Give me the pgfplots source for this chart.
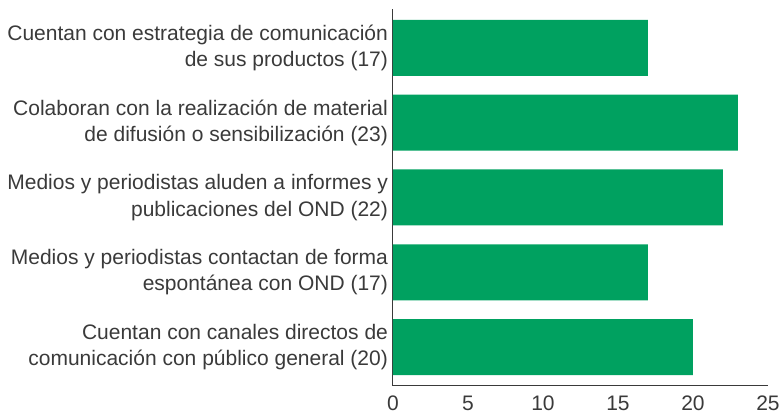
\documentclass[border=0pt]{standalone}
\usepackage{fontspec}
\setmainfont{Liberation Sans}
\usepackage{pgfplots}
\pgfplotsset{compat=1.18}
\definecolor{barG}{HTML}{00A160}
\definecolor{txt}{HTML}{3A3A3A}

\begin{document}
\begin{tikzpicture}
\path[use as bounding box] (-196.5pt,-15pt) rectangle (195pt,193pt);
\begin{axis}[
  scale only axis,
  width=187.5pt, height=188.5pt,
  at={(0,0)}, anchor=south west,
  xbar,
  bar width=28pt,
  xmin=0, xmax=25,
  ymin=-0.52, ymax=4.52,
  xtick={0,5,...,25},
  ytick={0,1,2,3,4},
  yticklabels={
    {Cuentan con canales directos de\\comunicación con público general (20)},
    {Medios y periodistas contactan de forma\\espontánea con OND (17)},
    {Medios y periodistas aluden a informes y\\publicaciones del OND (22)},
    {Colaboran con la realización de material\\de difusión o sensibilización (23)},
    {Cuentan con estrategia de comunicación\\de sus productos (17)}},
  axis x line*=bottom,
  axis y line*=left,
  axis line style={draw=txt, line width=0.5pt},
  major tick length=0pt,
  /pgf/number format/assume math mode=true,
  tick label style={font=\fontsize{10.5}{13.2}\selectfont, text=txt},
  yticklabel style={align=right, xshift=1pt},
  xticklabel style={yshift=-1.5pt},
]
\addplot[fill=barG, draw=none] coordinates {(20,0) (17,1) (22,2) (23,3) (17,4)};
\end{axis}
\end{tikzpicture}
\end{document}
